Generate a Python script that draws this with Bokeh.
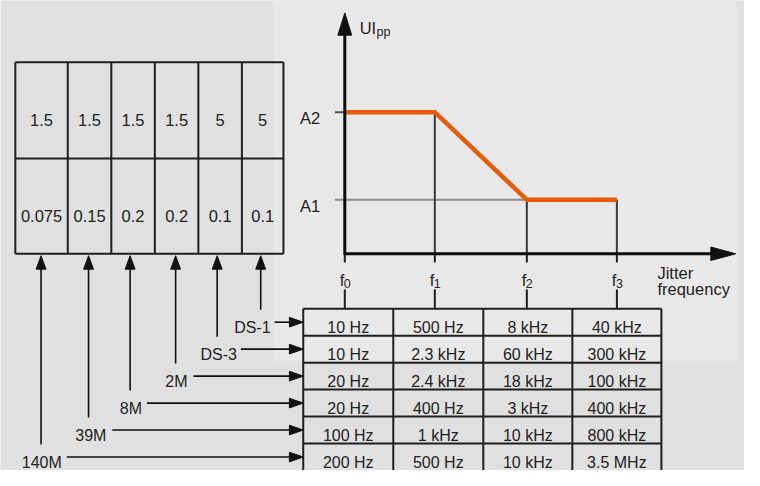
import numpy as np
from bokeh.plotting import figure
from bokeh.models import ColumnDataSource, Range1d
from bokeh.core.properties import value
from bokeh.embed import file_html
from bokeh.resources import INLINE

# ---------------- data ----------------
rates = ["140M", "39M", "8M", "2M", "DS-3", "DS-1"]          # left table columns (left -> right)
a2_values = ["1.5", "1.5", "1.5", "1.5", "5", "5"]
a1_values = ["0.075", "0.15", "0.2", "0.2", "0.1", "0.1"]

row_rates = ["DS-1", "DS-3", "2M", "8M", "39M", "140M"]     # right table rows (top -> bottom)
f0_values = ["10 Hz", "10 Hz", "20 Hz", "20 Hz", "100 Hz", "200 Hz"]
f1_values = ["500 Hz", "2.3 kHz", "2.4 kHz", "400 Hz", "1 kHz", "500 Hz"]
f2_values = ["8 kHz", "60 kHz", "18 kHz", "3 kHz", "10 kHz", "10 kHz"]
f3_values = ["40 kHz", "300 kHz", "100 kHz", "400 kHz", "800 kHz", "3.5 MHz"]

freq_subs = ["0", "1", "2", "3"]
amp_labels = ["A2", "A1"]
mask_levels = ["A2", "A2", "A1", "A1"]   # mask level at f0..f3
y_title_main, y_title_sub = "UI", "pp"
x_title = ["Jitter", "frequency"]

# ---------------- layout (pixel space of the 760x486 drawing) ----------------
BG, PANEL = "#e0e0e0", "#e8e8e8"
INK = "#222222"
ORANGE = "#e35b0b"
FONT = value("Liberation Sans")
FS = "16px"

panel = dict(left=276, right=744, top=0, bottom=374)
lt_x = [15, 68, 112, 156, 200, 244, 286]
lt_y = [64, 164, 263]
lt_base = [124, 224]
arrow_x = [41, 89, 131, 177, 219, 263]
label_right = [62, 107, 143, 189, 239, 273]
line_start = [67, 113, 148, 195, 243, 277]
rt_x = [306, 397, 488, 578, 668]
rt_top, rt_h = 320, 28
ox, oy = 348, 263
fx = [348, 439, 532, 623]
ay = {"A2": 116, "A1": 207}

p = figure(width=744, height=470, x_range=Range1d(0, 752), y_range=Range1d(488, 0),
           output_backend="svg", toolbar_location=None, min_border=0)
p.axis.visible = False
p.grid.visible = False
p.outline_line_color = None
p.background_fill_color = BG
p.border_fill_color = BG

# light panel behind the chart
p.quad(left=[panel["left"]], right=[panel["right"]], top=[-10], bottom=[panel["bottom"]],
       fill_color=PANEL, line_color=None)

def txt(x, y, t, align="center", size=FS, baseline="alphabetic", color=INK):
    p.text(x=x, y=y, text=t, text_align=align, text_baseline=baseline,
           text_font=FONT, text_font_size=size, text_color=color)

def tri(tips, direction, length, half):
    xs, ys = [], []
    for (tx, ty) in tips:
        if direction == "up":
            xs.append([tx, tx - half, tx + half]); ys.append([ty, ty + length, ty + length])
        else:  # right
            xs.append([tx, tx - length, tx - length]); ys.append([ty, ty - half, ty + half])
    p.patches(xs=xs, ys=ys, fill_color="#111111", line_color="#111111", line_width=1)

# ---------------- left table ----------------
p.segment(x0=lt_x, y0=[lt_y[0]] * len(lt_x), x1=lt_x, y1=[lt_y[-1]] * len(lt_x),
          line_color="#1e1e1e", line_width=2)
p.segment(x0=[lt_x[0]] * 3, y0=lt_y, x1=[lt_x[-1]] * 3, y1=lt_y, line_color="#1e1e1e", line_width=2)
cx_left = [(lt_x[i] + lt_x[i + 1]) / 2 for i in range(len(rates))]
txt(cx_left, [lt_base[0]] * len(rates), a2_values, size="16.5px")
txt(cx_left, [lt_base[1]] * len(rates), a1_values, size="16.5px")

# ---------------- right table ----------------
nrows = len(row_rates)
row_edges = [rt_top + rt_h * i for i in range(nrows + 1)]
p.segment(x0=rt_x, y0=[row_edges[0]] * len(rt_x), x1=rt_x, y1=[row_edges[-1] + 10] * len(rt_x),
          line_color="#1e1e1e", line_width=2)
p.segment(x0=[rt_x[0]] * nrows, y0=row_edges[:-1], x1=[rt_x[-1]] * nrows, y1=row_edges[:-1],
          line_color="#1e1e1e", line_width=2)
row_base = [e + 19.5 for e in row_edges[:-1]]
for k, col in enumerate([f0_values, f1_values, f2_values, f3_values]):
    cx = (rt_x[k] + rt_x[k + 1]) / 2
    txt([cx] * nrows, row_base, col)

# ---------------- connectors from left table to rows ----------------
vx, vy0, vy1, hx0, hx1, hy, lx, ly, tips_up, tips_r = [], [], [], [], [], [], [], [], [], []
for i, r in enumerate(rates):
    j = row_rates.index(r)
    vx.append(arrow_x[i]); vy0.append(lt_y[-1] + 6); vy1.append(row_edges[j] + 1)
    hx0.append(line_start[i]); hx1.append(rt_x[0] - 12); hy.append(row_edges[j] + rt_h / 2)
    lx.append(label_right[i]); ly.append(row_base[j])
    tips_up.append((arrow_x[i], lt_y[-1] + 2))
    tips_r.append((rt_x[0], row_edges[j] + rt_h / 2))
p.segment(x0=vx, y0=vy0, x1=vx, y1=vy1, line_color="#111111", line_width=1.6)
p.segment(x0=hx0, y0=hy, x1=hx1, y1=hy, line_color="#111111", line_width=1.6)
tri(tips_up, "up", 14, 5)
tri(tips_r, "right", 14, 5)
txt(lx, ly, rates, align="right")

# ---------------- jitter mask chart ----------------
p.segment(x0=[ox - 10], y0=[ay["A2"]], x1=[ox], y1=[ay["A2"]], line_color="#555555", line_width=2)
p.segment(x0=[ox - 10], y0=[ay["A1"]], x1=[fx[2]], y1=[ay["A1"]], line_color="#8c8c8c", line_width=2)
p.segment(x0=fx[1:], y0=[ay[l] for l in mask_levels[1:]], x1=fx[1:], y1=[oy] * 3,
          line_color="#3a3a3a", line_width=2)
p.segment(x0=fx, y0=[oy] * 4, x1=fx, y1=[oy + 9] * 4, line_color="#1e1e1e", line_width=2)
p.segment(x0=fx, y0=[300] * 4, x1=fx, y1=[rt_top] * 4, line_color="#1e1e1e", line_width=2)
p.line(x=fx, y=[ay[l] for l in mask_levels], line_color=ORANGE, line_width=4.5, line_join="miter")
p.segment(x0=[ox], y0=[oy + 1], x1=[ox], y1=[34], line_color="#0d0d0d", line_width=3)
p.segment(x0=[ox - 1], y0=[oy], x1=[720], y1=[oy], line_color="#0d0d0d", line_width=3)
tri([(ox, 13)], "up", 23, 7)
tri([(743, oy)], "right", 25, 7)

txt([363], [29], [y_title_main], align="left", size="16.5px")
txt([380], [32.5], [y_title_sub], align="left", size="12.5px")
txt([323, 323], [ay["A2"] + 6, ay["A1"] + 6], amp_labels, align="right", size="16.5px")
txt([x - 0.5 for x in fx], [290] * 4, ["f"] * 4, align="right", size="16.5px")
txt([x - 1 for x in fx], [294] * 4, freq_subs, align="left", size="12.5px")
txt([664, 664], [283, 300], x_title, align="left", size="16.5px")

open("out.html", "w").write(file_html(p, INLINE))
